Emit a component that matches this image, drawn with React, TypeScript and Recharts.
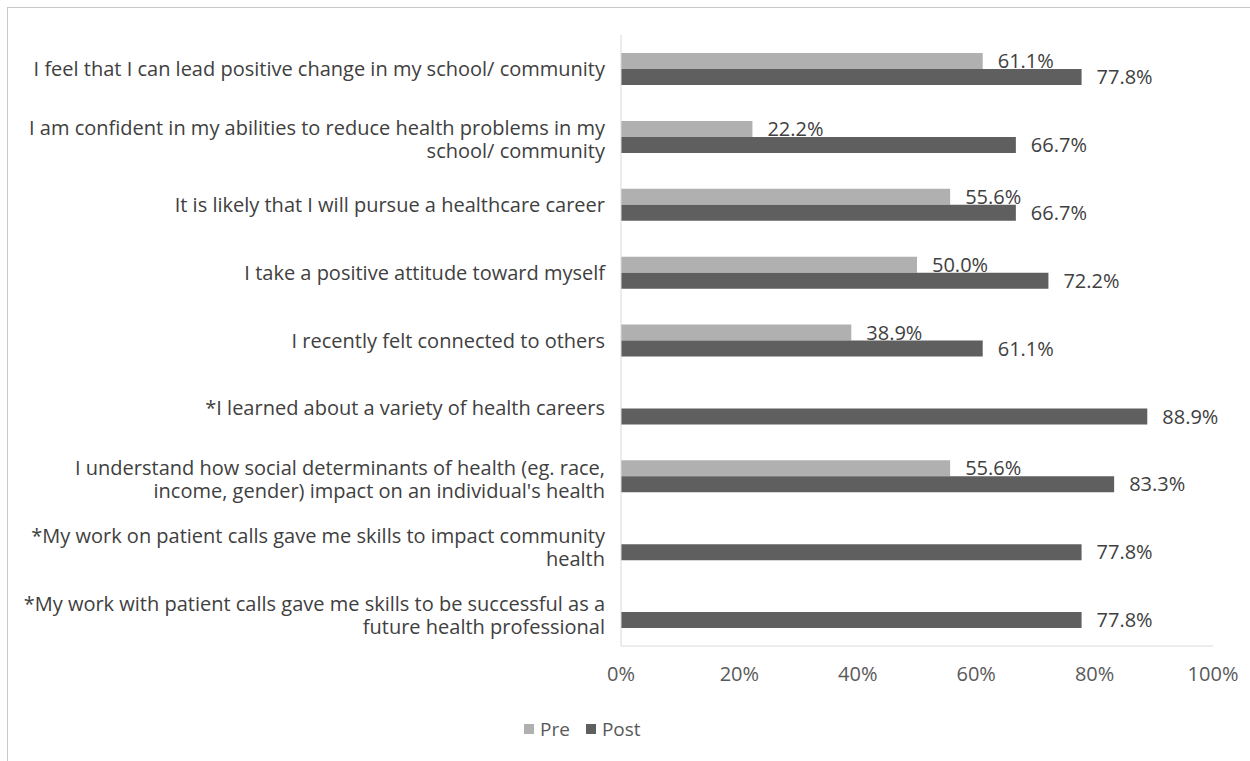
import React from 'react';
import { BarChart, Bar, XAxis, YAxis, Legend, LabelList } from 'recharts';

// statements, line breaks as in the original
const statements = [
  'I feel that I can lead positive change in my school/ community',
  'I am confident in my abilities to reduce health problems in my\nschool/ community',
  'It is likely that I will pursue a healthcare career',
  'I take a positive attitude toward myself',
  'I recently felt connected to others',
  '*I learned about a variety of health careers',
  "I understand how social determinants of health (eg. race,\nincome, gender) impact on an individual's health",
  '*My work on patient calls gave me skills to impact community\nhealth',
  '*My work with patient calls gave me skills to be successful as a\nfuture health professional',
];

const preValues = [61.1, 22.2, 55.6, 50.0, 38.9, null, 55.6, null, null];
const postValues = [77.8, 66.7, 66.7, 72.2, 61.1, 88.9, 83.3, 77.8, 77.8];
const xTicks = [0, 20, 40, 60, 80, 100];

const data = statements.map((s, i) => ({ label: s, pre: preValues[i], post: postValues[i] }));

const FONT = '"Open Sans", sans-serif';
const PRE = '#b0b0b0';
const POST = '#5f5f5f';

const StatementTick = (props: any) => {
  const { x, y, payload } = props;
  const lines = String(payload.value).split('\n');
  const start = y - 8.5 * (lines.length - 1);
  return (
    <text x={x} y={start} textAnchor="end" fill="#404040" fontSize={20} fontFamily={FONT}>
      {lines.map((l, i) => (
        <tspan key={i} x={x} y={start + i * 23} dy="0.35em">{l}</tspan>
      ))}
    </text>
  );
};

const fmt = (v: any) => (v == null ? '' : `${Number(v).toFixed(1)}%`);

const LegendContent = () => (
  <div style={{ paddingLeft: 516, display: 'flex', alignItems: 'center', fontFamily: FONT, fontSize: 19, color: '#595959' }}>
    <span style={{ width: 10, height: 10, background: PRE, display: 'inline-block', marginRight: 6 }} />
    <span style={{ marginRight: 16 }}>Pre</span>
    <span style={{ width: 10, height: 10, background: POST, display: 'inline-block', marginRight: 6 }} />
    <span>Post</span>
  </div>
);

export default function App() {
  return (
    <div style={{ position: 'absolute', left: 7, top: 7, borderLeft: '1px solid #c8c8c8', borderTop: '1px solid #c8c8c8', width: 1243, height: 754, background: '#fff' }}>
      <BarChart
        width={1242}
        height={753}
        data={data}
        layout="vertical"
        margin={{ top: 27, right: 37, left: 0, bottom: 21 }}
        barGap={0}
      >
        <XAxis
          type="number"
          domain={[0, 100]}
          ticks={xTicks}
          tickFormatter={(v) => `${v}%`}
          axisLine={{ stroke: '#d9d9d9' }}
          tickLine={false}
          tickSize={0}
          tickMargin={21}
          height={70}
          tick={{ fill: '#595959', fontSize: 20, fontFamily: FONT }}
        />
        <YAxis
          type="category"
          dataKey="label"
          width={613}
          axisLine={{ stroke: '#d9d9d9' }}
          tickLine={false}
          tickSize={0}
          tickMargin={16}
          interval={0}
          tick={<StatementTick />}
        />
        <Legend verticalAlign="bottom" height={24} wrapperStyle={{ left: 0, width: 1242 }} content={<LegendContent />} />
        <Bar dataKey="pre" name="Pre" fill={PRE} barSize={16} isAnimationActive={false}>
          <LabelList dataKey="pre" position="right" offset={15} formatter={fmt} fill="#404040" fontSize={20} fontFamily={FONT} />
        </Bar>
        <Bar dataKey="post" name="Post" fill={POST} barSize={16} isAnimationActive={false}>
          <LabelList dataKey="post" position="right" offset={15} formatter={fmt} fill="#404040" fontSize={20} fontFamily={FONT} />
        </Bar>
      </BarChart>
    </div>
  );
}
